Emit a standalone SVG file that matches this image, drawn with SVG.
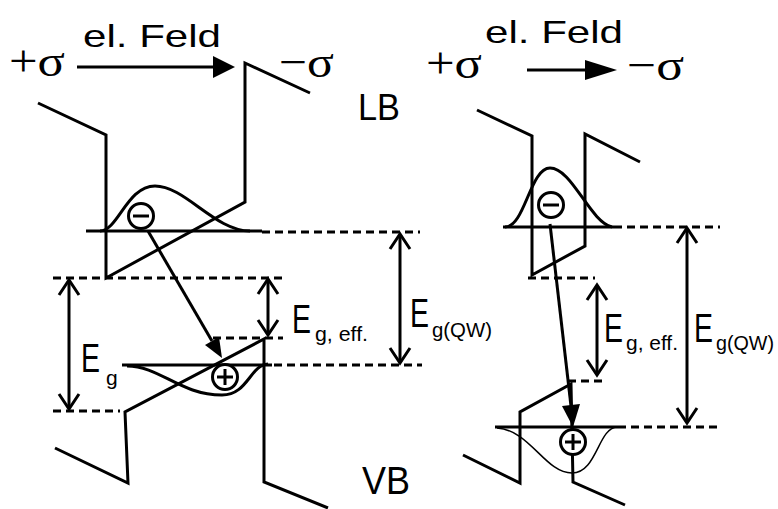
<svg xmlns="http://www.w3.org/2000/svg" width="778" height="509" viewBox="0 0 778 509">
<style>
.band{fill:none;stroke:#000;stroke-width:3;stroke-linejoin:miter;stroke-linecap:butt}
.lvl{fill:none;stroke:#000;stroke-width:3}
.dash{fill:none;stroke:#000;stroke-width:3;stroke-dasharray:8 5}
.wf{fill:none;stroke:#000;stroke-width:3}
.wft{fill:none;stroke:#000;stroke-width:1.5}
.ln{fill:none;stroke:#000;stroke-width:3}
.vee{fill:none;stroke:#000;stroke-width:3;stroke-linejoin:miter}
.tri{fill:#000;stroke:none}
.chg{fill:#fff;stroke:#000;stroke-width:3}
.t{font-family:"Liberation Sans",Arial,sans-serif;fill:#000}
.s{font-family:"Liberation Serif","Times New Roman",serif;fill:#000}
.sub{font-size:21px}
</style>
<rect width="778" height="509" fill="#fff"/>

<g id="left-panel">
  <g id="left-conduction-band">
    <polyline class="band" points="38,103 106,135 106,278 245,202 245,63 310,93"/>
  </g>
  <g id="left-valence-band">
    <polyline class="band" points="55,448 128,483 125,412 264,339 264,482 328,508"/>
  </g>
  <g id="left-levels">
    <line class="lvl" x1="86" y1="231" x2="262" y2="231"/>
    <line class="dash" x1="262" y1="232" x2="420" y2="232"/>
    <line class="dash" x1="53" y1="278" x2="287" y2="278"/>
    <line class="dash" x1="213" y1="338" x2="283" y2="338"/>
    <line class="lvl" x1="122" y1="365" x2="272" y2="365"/>
    <line class="dash" x1="274" y1="365" x2="422" y2="365"/>
    <line class="dash" x1="53" y1="411" x2="120" y2="411"/>
  </g>
  <g id="left-electron">
    <path class="wf" d="M 100 231 C 118 231, 127 186, 155 186 C 185 186, 215 231, 250 231"/>
    <circle class="chg" cx="141" cy="216" r="12.5"/>
    <line class="ln" x1="133" y1="216" x2="149" y2="216"/>
  </g>
  <g id="left-hole">
    <path class="wf" d="M 127 366 C 160 366, 180 395, 222 395 C 248 395, 250 365, 268 364"/>
    <circle class="chg" cx="225" cy="377" r="12.5"/>
    <line class="ln" x1="217" y1="377" x2="233" y2="377"/>
    <line class="ln" x1="225" y1="369" x2="225" y2="385"/>
  </g>
  <g id="left-labels">
    <text class="s" x="9" y="76" font-size="44" textLength="56" lengthAdjust="spacingAndGlyphs">+σ</text>
    <text class="t" x="83" y="47" font-size="32" textLength="138" lengthAdjust="spacingAndGlyphs">el. Feld</text>
    <text class="s" x="279" y="77" font-size="44" textLength="55" lengthAdjust="spacingAndGlyphs">−σ</text>
    <text class="t" x="358" y="120" font-size="36" textLength="42" lengthAdjust="spacingAndGlyphs">LB</text>
    <text class="t" x="362" y="494" font-size="38" textLength="48" lengthAdjust="spacingAndGlyphs">VB</text>
    <text class="t" font-size="41"><tspan x="81" y="372" textLength="19" lengthAdjust="spacingAndGlyphs">E</tspan><tspan class="sub" x="106" y="385">g</tspan></text>
    <text class="t" font-size="41"><tspan x="292" y="333" textLength="19" lengthAdjust="spacingAndGlyphs">E</tspan><tspan class="sub" x="315" y="341" textLength="53" lengthAdjust="spacingAndGlyphs">g, eff.</tspan></text>
    <text class="t" font-size="41"><tspan x="410" y="327" textLength="19" lengthAdjust="spacingAndGlyphs">E</tspan><tspan class="sub" x="432" y="337" textLength="60" lengthAdjust="spacingAndGlyphs">g(QW)</tspan></text>
  </g>
</g>

<g id="right-panel">
  <g id="right-conduction-band">
    <polyline class="band" points="477,110 532,136 532,275 585,246 585,134 640,162"/>
  </g>
  <g id="right-valence-band">
    <polyline class="band" points="463,455 520,483 520,412 571,384 573,482 625,505"/>
  </g>
  <g id="right-levels">
    <line class="lvl" x1="503" y1="227" x2="614" y2="227"/>
    <line class="dash" x1="614" y1="227" x2="720" y2="227"/>
    <line class="dash" x1="528" y1="278" x2="595" y2="278"/>
    <line class="dash" x1="568" y1="381" x2="602" y2="381"/>
    <line class="lvl" x1="495" y1="427" x2="618" y2="427"/>
    <line class="dash" x1="618" y1="427" x2="722" y2="427"/>
  </g>
  <g id="right-electron">
    <path class="wf" d="M 505 227 C 525 227, 530 168, 550 168 C 572 168, 590 222, 612 227"/>
    <circle class="chg" cx="551" cy="205" r="12.5"/>
    <line class="ln" x1="543" y1="205" x2="559" y2="205"/>
  </g>
  <g id="right-hole">
    <path class="wft" d="M 497 428 C 530 430, 545 473, 572 473 C 597 473, 598 428, 617 427"/>
    <circle class="chg" cx="573" cy="442" r="12.5"/>
    <line class="ln" x1="565" y1="442" x2="581" y2="442"/>
    <line class="ln" x1="573" y1="434" x2="573" y2="450"/>
  </g>
  <g id="right-labels">
    <text class="s" x="426" y="78" font-size="44" textLength="56" lengthAdjust="spacingAndGlyphs">+σ</text>
    <text class="t" x="485" y="43" font-size="32" textLength="138" lengthAdjust="spacingAndGlyphs">el. Feld</text>
    <text class="s" x="627" y="80" font-size="44" textLength="57" lengthAdjust="spacingAndGlyphs">−σ</text>
    <text class="t" font-size="41"><tspan x="604" y="342" textLength="19" lengthAdjust="spacingAndGlyphs">E</tspan><tspan class="sub" x="626" y="350" textLength="52" lengthAdjust="spacingAndGlyphs">g, eff.</tspan></text>
    <text class="t" font-size="41"><tspan x="694" y="342" textLength="19" lengthAdjust="spacingAndGlyphs">E</tspan><tspan class="sub" x="716" y="350" textLength="58" lengthAdjust="spacingAndGlyphs">g(QW)</tspan></text>
  </g>
</g>

<g id="connectors">
  <line class="ln" x1="77" y1="67" x2="215" y2="67"/>
  <polygon class="tri" points="213,56 235,67 213,78"/>
  <line class="ln" x1="527" y1="70" x2="587" y2="70"/>
  <polygon class="tri" points="585,60 617,70 585,80"/>
  <line class="ln" x1="148" y1="231" x2="212" y2="341"/>
  <polygon class="tri" points="219,337 222,358 205,345"/>
  <line class="ln" x1="550" y1="224" x2="571" y2="406"/>
  <polygon class="tri" points="580,404 573,427 562,406"/>
  <line class="ln" x1="69" y1="281" x2="69" y2="408"/>
  <polyline class="vee" points="59,295 69,280 79,295"/>
  <polyline class="vee" points="59,394 69,409 79,394"/>
  <line class="ln" x1="268" y1="280" x2="268" y2="334"/>
  <polyline class="vee" points="258,294 268,279 278,294"/>
  <polyline class="vee" points="258,320 268,335 278,320"/>
  <line class="ln" x1="400" y1="235" x2="400" y2="362"/>
  <polyline class="vee" points="390,249 400,234 410,249"/>
  <polyline class="vee" points="390,348 400,363 410,348"/>
  <line class="ln" x1="597" y1="286" x2="597" y2="374"/>
  <polyline class="vee" points="587,300 597,285 607,300"/>
  <polyline class="vee" points="587,360 597,375 607,360"/>
  <line class="ln" x1="687" y1="229" x2="687" y2="422"/>
  <polyline class="vee" points="677,243 687,228 697,243"/>
  <polyline class="vee" points="677,408 687,423 697,408"/>
</g>
</svg>
